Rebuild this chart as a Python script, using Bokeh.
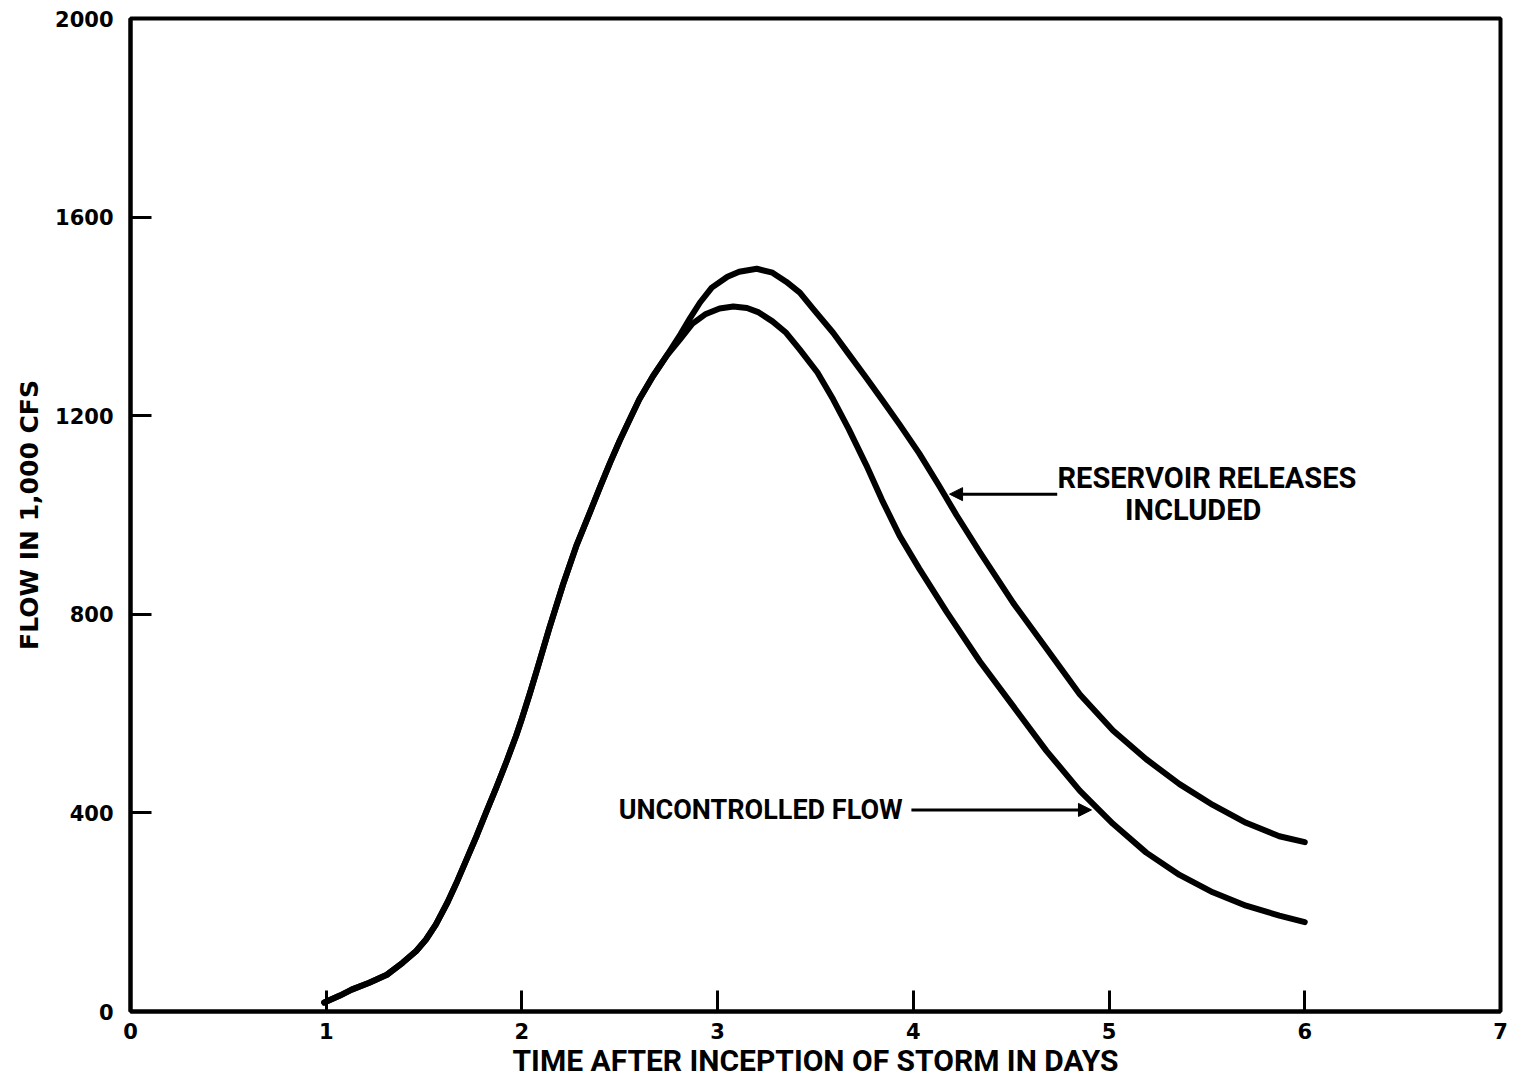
from bokeh.plotting import figure
from bokeh.models import Range1d, FixedTicker, Label, Arrow, NormalHead
from bokeh.embed import file_html
from bokeh.resources import INLINE

# Data (days after storm inception, flow in 1,000 cfs)
uncontrolled_days = [0.99, 1.07, 1.13, 1.22, 1.31, 1.39, 1.46, 1.51, 1.56, 1.62,
                     1.67, 1.72, 1.77, 1.82, 1.87, 1.92, 1.97, 2.00, 2.04, 2.08,
                     2.14, 2.21, 2.28, 2.35, 2.40, 2.45, 2.50, 2.55, 2.60, 2.67,
                     2.74, 2.81, 2.87, 2.94, 3.01, 3.08, 3.15, 3.21, 3.28, 3.35,
                     3.42, 3.51, 3.59, 3.67, 3.76, 3.84, 3.93, 4.03, 4.17, 4.34,
                     4.51, 4.68, 4.85, 5.02, 5.19, 5.36, 5.53, 5.70, 5.87, 6.00]
uncontrolled_flow = [18, 32, 44, 58, 74, 98, 122, 145, 175, 220,
                     263, 309, 355, 404, 452, 502, 555, 590, 640, 692,
                     772, 860, 940, 1008, 1057, 1105, 1150, 1192, 1233, 1280,
                     1321, 1355, 1385, 1405, 1416, 1420, 1417, 1408, 1390, 1367,
                     1333, 1287, 1233, 1173, 1100, 1030, 958, 892, 805, 705,
                     615, 525, 445, 378, 320, 275, 240, 213, 193, 180]

reservoir_days = [0.99, 1.07, 1.13, 1.22, 1.31, 1.39, 1.46, 1.51, 1.56, 1.62,
                  1.67, 1.72, 1.77, 1.82, 1.87, 1.92, 1.97, 2.00, 2.04, 2.08,
                  2.14, 2.21, 2.28, 2.35, 2.40, 2.45, 2.50, 2.55, 2.60, 2.67,
                  2.74, 2.81, 2.86, 2.91, 2.97, 3.05, 3.11, 3.20, 3.28, 3.35,
                  3.42, 3.49, 3.59, 3.67, 3.76, 3.84, 3.93, 4.03, 4.13, 4.22,
                  4.34, 4.51, 4.68, 4.85, 5.02, 5.19, 5.36, 5.53, 5.70, 5.87,
                  6.00]
reservoir_flow = [18, 32, 44, 58, 74, 98, 122, 145, 175, 220,
                  263, 309, 355, 404, 452, 502, 555, 590, 640, 692,
                  772, 860, 940, 1008, 1057, 1105, 1150, 1192, 1233, 1280,
                  1321, 1364, 1397, 1428, 1458, 1480, 1490, 1496, 1488, 1470,
                  1448, 1414, 1367, 1324, 1276, 1232, 1182, 1124, 1060, 1000,
                  925, 823, 731, 639, 566, 508, 458, 416, 380, 353,
                  341]

x_ticks = [0, 1, 2, 3, 4, 5, 6, 7]
y_ticks = [0, 400, 800, 1200, 1600, 2000]

LABEL_FONT = "Roboto"
TICK_FONT = "DejaVu Sans"

p = figure(width=1510, height=1080,
           x_range=Range1d(0, 7), y_range=Range1d(0, 2000),
           output_backend="svg", toolbar_location=None,
           min_border_left=130, min_border_right=10,
           min_border_top=18, min_border_bottom=66)

p.background_fill_color = "white"
p.border_fill_color = "white"
p.outline_line_color = "black"
p.outline_line_width = 4
p.xgrid.visible = False
p.ygrid.visible = False

for ax in (p.xaxis[0], p.yaxis[0]):
    ax.axis_line_width = 4
    ax.axis_line_color = "black"
    ax.major_tick_in = 21
    ax.major_tick_out = 0
    ax.major_tick_line_width = 3
    ax.major_tick_line_color = "black"
    ax.minor_tick_line_color = None
    ax.major_label_text_font = TICK_FONT
    ax.major_label_text_font_style = "bold"
    ax.major_label_text_font_size = "21px"
    ax.major_label_text_color = "black"
    ax.axis_label_text_color = "black"

p.xaxis.ticker = FixedTicker(ticks=x_ticks)
p.yaxis.ticker = FixedTicker(ticks=y_ticks)
p.xaxis.major_label_standoff = 11
p.yaxis.major_label_standoff = 17

p.xaxis.axis_label = "TIME AFTER INCEPTION OF STORM IN DAYS"
p.xaxis.axis_label_text_font = LABEL_FONT
p.xaxis.axis_label_text_font_style = "bold"
p.xaxis.axis_label_text_font_size = "30px"
p.xaxis.axis_label_standoff = 1

p.yaxis.axis_label = "FLOW IN 1,000 CFS"
p.yaxis.axis_label_text_font = TICK_FONT
p.yaxis.axis_label_text_font_style = "bold"
p.yaxis.axis_label_text_font_size = "25px"
p.yaxis.axis_label_standoff = 8

p.line(reservoir_days, reservoir_flow, line_color="black", line_width=6,
       line_join="round", line_cap="round")
p.line(uncontrolled_days, uncontrolled_flow, line_color="black", line_width=6,
       line_join="round", line_cap="round")

# Annotations
p.add_layout(Label(x=5.50, y=1074, text="RESERVOIR RELEASES", text_align="center",
                   text_baseline="middle", text_font=LABEL_FONT, text_font_style="bold",
                   text_font_size="29px", text_color="black"))
p.add_layout(Label(x=5.43, y=1010, text="INCLUDED", text_align="center",
                   text_baseline="middle", text_font=LABEL_FONT, text_font_style="bold",
                   text_font_size="29px", text_color="black"))
p.add_layout(Label(x=3.22, y=406, text="UNCONTROLLED FLOW", text_align="center",
                   text_baseline="middle", text_font=LABEL_FONT, text_font_style="bold",
                   text_font_size="27px", text_color="black"))

p.add_layout(Arrow(end=NormalHead(size=13, fill_color="black", line_color="black"),
                   x_start=4.735, y_start=1042, x_end=4.185, y_end=1042,
                   line_width=3, line_color="black"))
p.add_layout(Arrow(end=NormalHead(size=13, fill_color="black", line_color="black"),
                   x_start=3.99, y_start=406, x_end=4.91, y_end=406,
                   line_width=3, line_color="black"))

open("out.html", "w").write(file_html(p, INLINE))
